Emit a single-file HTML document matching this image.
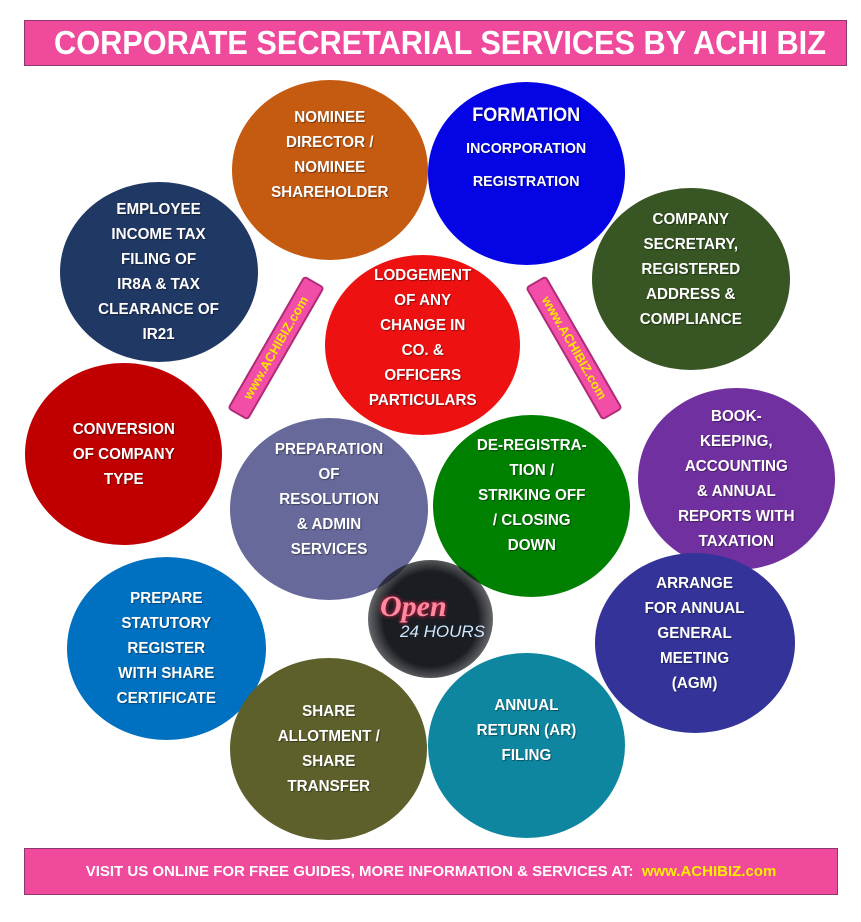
<!DOCTYPE html>
<html><head><meta charset="utf-8"><style>
body{margin:0;width:861px;height:922px;background:#fff;position:relative;overflow:hidden;font-family:"Liberation Sans",sans-serif}
.bar{position:absolute;background:#ef4a9c;border:1px solid #8a3a70;color:#fff;font-weight:bold;text-align:center;white-space:nowrap}
.c{position:absolute;border-radius:50%;color:#fff;font-weight:bold;display:flex;align-items:center;justify-content:center;text-align:center;font-size:16px;line-height:25px;text-shadow:1px 1px 1px rgba(0,0,0,.4)}
.c>span{display:block;transform:scaleX(.95)}
.stick{position:absolute;background:#f24ea8;border:2px solid #b02a78;border-radius:4px;color:#ffe600;font-weight:bold;font-size:13px;text-align:center;line-height:20px;width:150px;height:20px}
</style></head><body>
<div class="bar" style="left:24px;top:20px;width:821px;height:44px;font-size:33px;line-height:44px"><span style="display:inline-block;transform:scaleX(.93);transform-origin:center">CORPORATE SECRETARIAL SERVICES BY ACHI BIZ</span></div>

<div class="c" style="left:232px;top:80px;width:196px;height:180px;background:#c55a11;padding-bottom:30px;box-sizing:border-box"><span>NOMINEE<br>DIRECTOR /<br>NOMINEE<br>SHAREHOLDER</span></div>
<div class="c" style="left:428px;top:82px;width:197px;height:183px;background:#0404e4;padding-bottom:50px;box-sizing:border-box;line-height:32px"><span style="font-size:19px">FORMATION<br><span style="font-size:15px">INCORPORATION<br>REGISTRATION</span></span></div>
<div class="c" style="left:60px;top:182px;width:198px;height:180px;background:#203864"><span>EMPLOYEE<br>INCOME TAX<br>FILING OF<br>IR8A &amp; TAX<br>CLEARANCE OF<br>IR21</span></div>
<div class="c" style="left:592px;top:188px;width:198px;height:182px;background:#375623;padding-bottom:20px;box-sizing:border-box"><span>COMPANY<br>SECRETARY,<br>REGISTERED<br>ADDRESS &amp;<br>COMPLIANCE</span></div>
<div class="c" style="left:325px;top:255px;width:195px;height:180px;background:#ee1111;padding-bottom:14px;box-sizing:border-box"><span>LODGEMENT<br>OF ANY<br>CHANGE IN<br>CO. &amp;<br>OFFICERS<br>PARTICULARS</span></div>
<div class="c" style="left:25px;top:363px;width:197px;height:182px;background:#c00000"><span>CONVERSION<br>OF COMPANY<br>TYPE</span></div>
<div class="c" style="left:638px;top:388px;width:197px;height:182px;background:#7030a0"><span>BOOK-<br>KEEPING,<br>ACCOUNTING<br>&amp; ANNUAL<br>REPORTS WITH<br>TAXATION</span></div>
<div class="c" style="left:230px;top:418px;width:198px;height:182px;background:#66699a;padding-bottom:20px;box-sizing:border-box"><span>PREPARATION<br>OF<br>RESOLUTION<br>&amp; ADMIN<br>SERVICES</span></div>
<div class="c" style="left:433px;top:415px;width:197px;height:182px;background:#008000;padding-bottom:22px;box-sizing:border-box"><span>DE-REGISTRA-<br>TION /<br>STRIKING OFF<br>/ CLOSING<br>DOWN</span></div>
<div class="c" style="left:67px;top:557px;width:199px;height:183px;background:#0070c0"><span>PREPARE<br>STATUTORY<br>REGISTER<br>WITH SHARE<br>CERTIFICATE</span></div>
<div class="c" style="left:595px;top:553px;width:200px;height:180px;background:#333399;padding-bottom:20px;box-sizing:border-box"><span>ARRANGE<br>FOR ANNUAL<br>GENERAL<br>MEETING<br>(AGM)</span></div>
<div class="c" style="left:230px;top:658px;width:197px;height:182px;background:#5e602c"><span>SHARE<br>ALLOTMENT /<br>SHARE<br>TRANSFER</span></div>
<div class="c" style="left:428px;top:653px;width:197px;height:185px;background:#0e86a0;padding-bottom:30px;box-sizing:border-box"><span>ANNUAL<br>RETURN (AR)<br>FILING</span></div>
<div style="position:absolute;left:368px;top:560px;width:125px;height:118px;border-radius:50%;background:radial-gradient(circle,#1a1d22 55%,rgba(20,20,25,.6) 75%,rgba(255,255,255,0) 100%)"></div>
<div style="position:absolute;left:380px;top:590px;color:#ff8aa0;font:italic bold 30px 'Liberation Serif',serif;text-shadow:0 0 4px #ff2050">Open</div>
<div style="position:absolute;left:400px;top:622px;color:#cfe8ff;font:italic 17px 'Liberation Sans',sans-serif">24 HOURS</div>

<div class="stick" style="left:199px;top:336px;transform:rotate(-60deg)">www.ACHIBIZ.com</div>
<div class="stick" style="left:497px;top:336px;transform:rotate(60deg)">www.ACHIBIZ.com</div>

<div class="bar" style="left:24px;top:848px;width:812px;height:45px;font-size:15px;line-height:45px">VISIT US ONLINE FOR FREE GUIDES, MORE INFORMATION &amp; SERVICES AT: &nbsp;<span style="color:#ffee00">www.ACHIBIZ.com</span></div>
</body></html>
